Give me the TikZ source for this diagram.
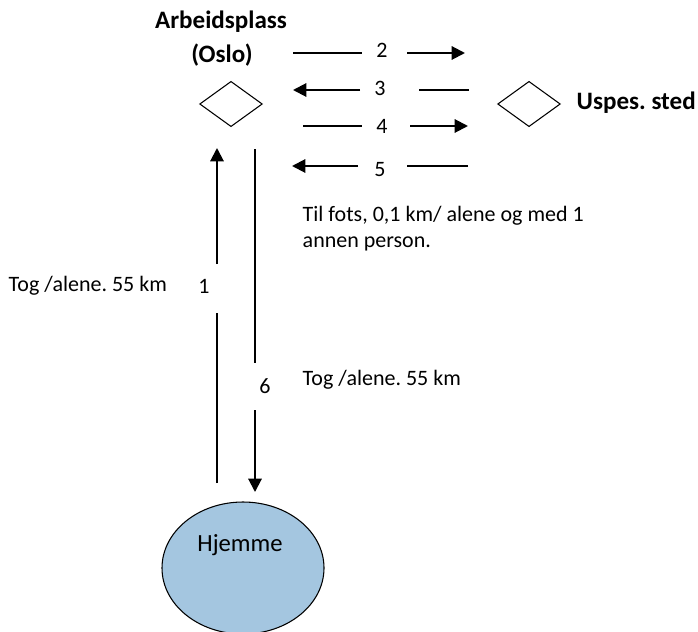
\documentclass[tikz,border=0pt]{standalone}
\usepackage{fontspec}
\setmainfont{Carlito}
\usetikzlibrary{arrows.meta,shapes.geometric}
\definecolor{homefill}{RGB}{164,198,224}
\frenchspacing
\tikzset{
  conn/.style={line width=1.5pt},
  tip/.style={conn,-{Triangle[length=10pt,width=10pt]}},
  place/.style={diamond,draw,line width=0.8pt,minimum width=47pt,minimum height=34pt,inner sep=0pt,aspect=1.4},
  title/.style={font=\fontsize{18.8}{22}\selectfont\bfseries},
  txt/.style={font=\fontsize{16.5}{19}\selectfont},
  num/.style={font=\fontsize{16.5}{19}\selectfont,inner sep=0pt},
}
\begin{document}
\begin{tikzpicture}[x=0.75pt,y=-0.75pt]
  \useasboundingbox (0,0) rectangle (698,631);
  \begin{scope}
    \clip (0,0) rectangle (698,631);
    \node[ellipse,draw,line width=0.8pt,fill=homefill,minimum width=121.5pt,minimum height=99pt,inner sep=0pt] (home) at (243,568) {};
  \end{scope}
  \node[font=\fontsize{18.5}{22}\selectfont] (homelbl) at (240,545) {Hjemme};

  % the two places
  \node[place] (work) at (231,104) {};
  \node[place] (other) at (529,104) {};
  \node[title] (worklbl1) at (221,22) {Arbeidsplass};
  \node[title] (worklbl2) at (222,55) {(Oslo)};
  \node[title,anchor=west] (otherlbl) at (572,103) {Uspes. sted};

  % trip numbers
  \node[num] (n1) at (204,286) {1};
  \node[num] (n2) at (382,50) {2};
  \node[num] (n3) at (380,88) {3};
  \node[num] (n4) at (382,126) {4};
  \node[num] (n5) at (380,170) {5};
  \node[num] (n6) at (265,386) {6};

  % train, home to work and back
  \coordinate (a1s) at (217,483);
  \coordinate (a1m) at (217,313);
  \coordinate (a1n) at (217,264);
  \coordinate (a1e) at (217,148);
  \draw[conn] (a1s) -- (a1m);
  \draw[tip] (a1n) -- (a1e);
  \coordinate (a6s) at (255,149);
  \coordinate (a6m) at (255,363);
  \coordinate (a6n) at (255,410);
  \coordinate (a6e) at (255,492);
  \draw[conn] (a6s) -- (a6m);
  \draw[tip] (a6n) -- (a6e);

  % walking trips between the two places
  \coordinate (a2s) at (293,53);  \coordinate (a2m) at (362,53);
  \coordinate (a2n) at (407,53);  \coordinate (a2e) at (465,53);
  \draw[conn] (a2s) -- (a2m);
  \draw[tip] (a2n) -- (a2e);
  \coordinate (a3s) at (469,90);  \coordinate (a3m) at (419,90);
  \coordinate (a3n) at (360,90);  \coordinate (a3e) at (293,90);
  \draw[conn] (a3s) -- (a3m);
  \draw[tip] (a3n) -- (a3e);
  \coordinate (a4s) at (303,126); \coordinate (a4m) at (362,126);
  \coordinate (a4n) at (410,126); \coordinate (a4e) at (468,126);
  \draw[conn] (a4s) -- (a4m);
  \draw[tip] (a4n) -- (a4e);
  \coordinate (a5s) at (468,166); \coordinate (a5m) at (407,166);
  \coordinate (a5n) at (358,166); \coordinate (a5e) at (292,166);
  \draw[conn] (a5s) -- (a5m);
  \draw[tip] (a5n) -- (a5e);

  % trip descriptions
  \node[txt,anchor=west,align=left,font=\fontsize{16.5}{19.5}\selectfont] (walk) at (298,229) {Til fots, 0,1 km/ alene og med 1\\annen person.};
  \node[txt,anchor=west] (train1) at (4,286) {Tog /alene. 55 km};
  \node[txt,anchor=west] (train6) at (298,380) {Tog /alene. 55 km};
\end{tikzpicture}
\end{document}
